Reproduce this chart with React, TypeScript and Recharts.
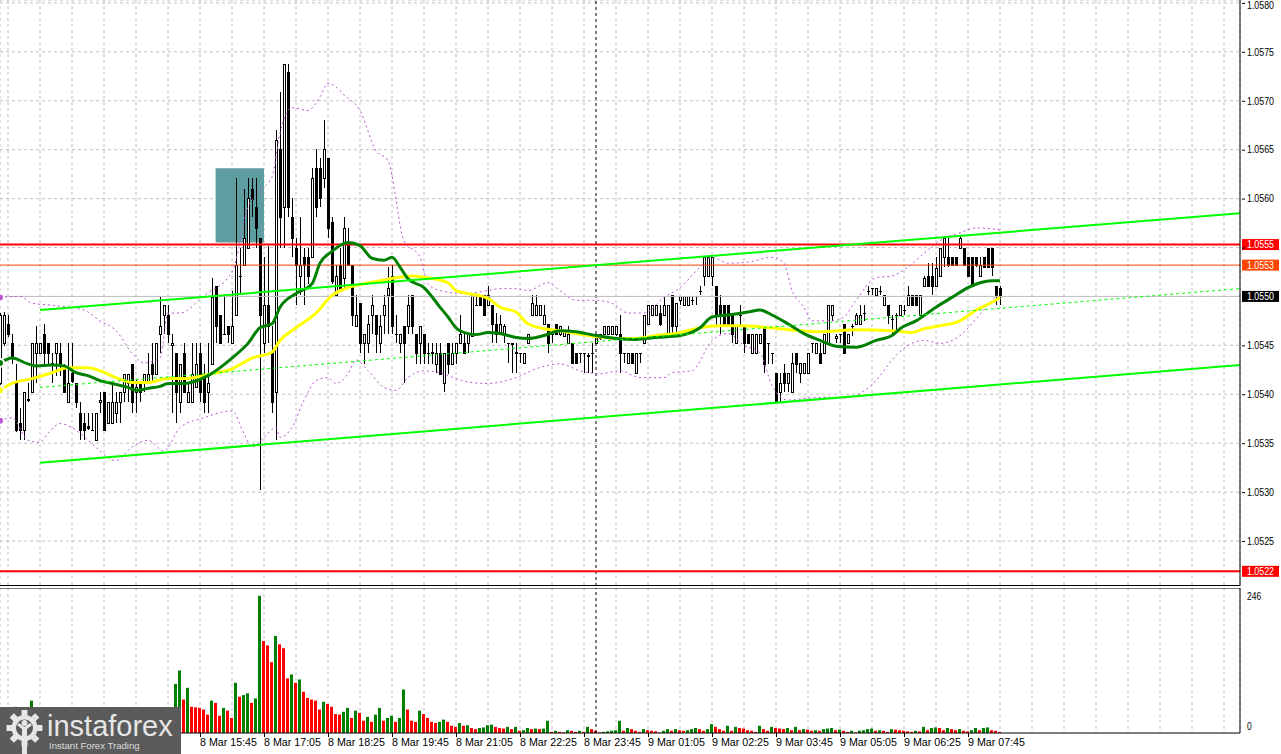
import React from 'react';
import {
  ComposedChart, Bar, Line, XAxis, YAxis, CartesianGrid,
  ReferenceLine, ReferenceArea, Cell,
} from 'recharts';

// 5 min candles, bar index 0 .. 250 (bar 50 = 8 Mar 15:45)
const opens = [
  1.05412, 1.05452, 1.05472, 1.05452, 1.05412, 1.05371, 1.05363, 1.05394, 1.05402, 1.05442,
  1.05442, 1.05462, 1.05452, 1.05431, 1.05442, 1.05442, 1.05429, 1.05392, 1.05422, 1.05412,
  1.05381, 1.05371, 1.05368, 1.05363, 1.05353, 1.05392, 1.05402, 1.05371, 1.05371, 1.05381,
  1.05392, 1.05402, 1.05412, 1.05431, 1.05402, 1.05412, 1.05412, 1.05412, 1.05431, 1.05421,
  1.05462, 1.05481, 1.05481, 1.05450, 1.05442, 1.05392, 1.05442, 1.05392, 1.05392, 1.05407,
  1.05442, 1.05421, 1.05402, 1.05431, 1.05511, 1.05481, 1.05462, 1.05470, 1.05452, 1.05481,
  1.05521, 1.05532, 1.05550, 1.05610, 1.05591, 1.05560, 1.05452, 1.05491, 1.05442, 1.05402,
  1.05651, 1.05591, 1.05729, 1.05581, 1.05550, 1.05521, 1.05540, 1.05540, 1.05540, 1.05631,
  1.05631, 1.05621, 1.05641, 1.05576, 1.05501, 1.05532, 1.05519, 1.05555, 1.05532, 1.05470,
  1.05493, 1.05452, 1.05452, 1.05481, 1.05481, 1.05452, 1.05481, 1.05501, 1.05521, 1.05462,
  1.05452, 1.05470, 1.05470, 1.05501, 1.05462, 1.05452, 1.05462, 1.05442, 1.05442, 1.05431,
  1.05442, 1.05412, 1.05452, 1.05431, 1.05442, 1.05452, 1.05452, 1.05452, 1.05460, 1.05491,
  1.05501, 1.05501, 1.05491, 1.05491, 1.05472, 1.05462, 1.05462, 1.05452, 1.05452, 1.05443,
  1.05442, 1.05432, 1.05452, 1.05481, 1.05481, 1.05481, 1.05472, 1.05472, 1.05462, 1.05472,
  1.05462, 1.05460, 1.05452, 1.05452, 1.05442, 1.05442, 1.05442, 1.05440, 1.05442, 1.05452,
  1.05457, 1.05462, 1.05462, 1.05462, 1.05462, 1.05462, 1.05442, 1.05432, 1.05442, 1.05422,
  1.05442, 1.05452, 1.05472, 1.05481, 1.05481, 1.05483, 1.05481, 1.05462, 1.05501, 1.05470,
  1.05496, 1.05491, 1.05491, 1.05496, 1.05500, 1.05506, 1.05521, 1.05521, 1.05521, 1.05511,
  1.05491, 1.05491, 1.05491, 1.05481, 1.05452, 1.05481, 1.05470, 1.05462, 1.05442, 1.05442,
  1.05452, 1.05470, 1.05452, 1.05442, 1.05422, 1.05402, 1.05422, 1.05412, 1.05402, 1.05442,
  1.05422, 1.05422, 1.05422, 1.05452, 1.05442, 1.05442, 1.05442, 1.05452, 1.05481, 1.05457,
  1.05462, 1.05472, 1.05452, 1.05470, 1.05472, 1.05472, 1.05483, 1.05506, 1.05509, 1.05501,
  1.05506, 1.05491, 1.05491, 1.05477, 1.05481, 1.05481, 1.05486, 1.05491, 1.05501, 1.05501,
  1.05481, 1.05511, 1.05521, 1.05521, 1.05511, 1.05521, 1.05540, 1.05540, 1.05540, 1.05540,
  1.05550, 1.05550, 1.05540, 1.05540, 1.05540, 1.05521, 1.05540, 1.05550, 1.05550, 1.05511,
  1.05509,
];
const highs = [
  1.05483, 1.05484, 1.05481, 1.05462, 1.05431, 1.05386, 1.05402, 1.05411, 1.05452, 1.05470,
  1.05452, 1.05472, 1.05452, 1.05442, 1.05452, 1.05452, 1.05431, 1.05452, 1.05452, 1.05412,
  1.05392, 1.05381, 1.05381, 1.05381, 1.05381, 1.05402, 1.05402, 1.05392, 1.05412, 1.05402,
  1.05402, 1.05421, 1.05421, 1.05431, 1.05416, 1.05412, 1.05421, 1.05442, 1.05452, 1.05452,
  1.05499, 1.05491, 1.05491, 1.05462, 1.05442, 1.05431, 1.05452, 1.05411, 1.05452, 1.05452,
  1.05452, 1.05431, 1.05452, 1.05519, 1.05511, 1.05481, 1.05501, 1.05470, 1.05506, 1.05621,
  1.05550, 1.05610, 1.05621, 1.05621, 1.05621, 1.05560, 1.05540, 1.05552, 1.05470, 1.05670,
  1.05709, 1.05738, 1.05738, 1.05601, 1.05560, 1.05581, 1.05550, 1.05550, 1.05631, 1.05651,
  1.05641, 1.05680, 1.05641, 1.05581, 1.05532, 1.05550, 1.05581, 1.05570, 1.05532, 1.05501,
  1.05493, 1.05462, 1.05481, 1.05501, 1.05481, 1.05481, 1.05501, 1.05530, 1.05532, 1.05481,
  1.05462, 1.05470, 1.05501, 1.05501, 1.05462, 1.05470, 1.05462, 1.05452, 1.05452, 1.05452,
  1.05452, 1.05442, 1.05452, 1.05452, 1.05452, 1.05481, 1.05462, 1.05462, 1.05501, 1.05501,
  1.05501, 1.05501, 1.05511, 1.05491, 1.05483, 1.05481, 1.05472, 1.05452, 1.05452, 1.05452,
  1.05442, 1.05442, 1.05462, 1.05501, 1.05501, 1.05491, 1.05491, 1.05472, 1.05462, 1.05472,
  1.05470, 1.05465, 1.05470, 1.05452, 1.05442, 1.05442, 1.05442, 1.05442, 1.05452, 1.05462,
  1.05462, 1.05470, 1.05470, 1.05470, 1.05470, 1.05481, 1.05442, 1.05442, 1.05442, 1.05442,
  1.05442, 1.05481, 1.05491, 1.05491, 1.05491, 1.05491, 1.05499, 1.05491, 1.05501, 1.05493,
  1.05500, 1.05500, 1.05500, 1.05500, 1.05500, 1.05511, 1.05540, 1.05540, 1.05540, 1.05511,
  1.05501, 1.05491, 1.05491, 1.05481, 1.05470, 1.05491, 1.05470, 1.05462, 1.05462, 1.05462,
  1.05462, 1.05470, 1.05452, 1.05442, 1.05422, 1.05422, 1.05431, 1.05422, 1.05442, 1.05442,
  1.05432, 1.05432, 1.05442, 1.05452, 1.05452, 1.05452, 1.05462, 1.05491, 1.05491, 1.05462,
  1.05462, 1.05472, 1.05462, 1.05472, 1.05483, 1.05491, 1.05491, 1.05511, 1.05509, 1.05509,
  1.05511, 1.05501, 1.05491, 1.05481, 1.05483, 1.05491, 1.05491, 1.05511, 1.05501, 1.05501,
  1.05501, 1.05521, 1.05534, 1.05534, 1.05540, 1.05550, 1.05562, 1.05560, 1.05540, 1.05540,
  1.05562, 1.05550, 1.05540, 1.05540, 1.05540, 1.05540, 1.05540, 1.05550, 1.05550, 1.05511,
  1.05511,
];
const lows = [
  1.05409, 1.05449, 1.05459, 1.05431, 1.05361, 1.05353, 1.05353, 1.05392, 1.05402, 1.05412,
  1.05442, 1.05431, 1.05431, 1.05411, 1.05419, 1.05419, 1.05402, 1.05392, 1.05412, 1.05386,
  1.05353, 1.05353, 1.05363, 1.05363, 1.05353, 1.05381, 1.05363, 1.05371, 1.05371, 1.05371,
  1.05371, 1.05392, 1.05392, 1.05381, 1.05381, 1.05392, 1.05402, 1.05412, 1.05412, 1.05421,
  1.05442, 1.05462, 1.05452, 1.05381, 1.05371, 1.05381, 1.05402, 1.05392, 1.05392, 1.05407,
  1.05392, 1.05381, 1.05381, 1.05431, 1.05452, 1.05452, 1.05462, 1.05452, 1.05452, 1.05481,
  1.05501, 1.05532, 1.05550, 1.05581, 1.05550, 1.05302, 1.05442, 1.05452, 1.05381, 1.05353,
  1.05550, 1.05550, 1.05581, 1.05540, 1.05491, 1.05501, 1.05491, 1.05513, 1.05540, 1.05581,
  1.05591, 1.05611, 1.05560, 1.05513, 1.05501, 1.05509, 1.05509, 1.05532, 1.05470, 1.05470,
  1.05442, 1.05431, 1.05442, 1.05462, 1.05442, 1.05442, 1.05462, 1.05462, 1.05462, 1.05452,
  1.05442, 1.05412, 1.05462, 1.05462, 1.05431, 1.05431, 1.05431, 1.05431, 1.05431, 1.05422,
  1.05421, 1.05402, 1.05421, 1.05431, 1.05431, 1.05452, 1.05442, 1.05442, 1.05460, 1.05491,
  1.05491, 1.05481, 1.05491, 1.05452, 1.05452, 1.05462, 1.05452, 1.05432, 1.05422, 1.05422,
  1.05432, 1.05432, 1.05452, 1.05481, 1.05481, 1.05481, 1.05472, 1.05442, 1.05452, 1.05462,
  1.05460, 1.05460, 1.05452, 1.05432, 1.05432, 1.05432, 1.05422, 1.05422, 1.05422, 1.05452,
  1.05455, 1.05462, 1.05462, 1.05462, 1.05460, 1.05422, 1.05432, 1.05432, 1.05432, 1.05422,
  1.05432, 1.05452, 1.05472, 1.05481, 1.05481, 1.05470, 1.05481, 1.05462, 1.05462, 1.05462,
  1.05491, 1.05491, 1.05491, 1.05491, 1.05491, 1.05501, 1.05511, 1.05521, 1.05511, 1.05470,
  1.05462, 1.05470, 1.05470, 1.05452, 1.05452, 1.05470, 1.05442, 1.05452, 1.05442, 1.05442,
  1.05452, 1.05422, 1.05431, 1.05431, 1.05392, 1.05392, 1.05402, 1.05402, 1.05402, 1.05422,
  1.05412, 1.05422, 1.05422, 1.05442, 1.05442, 1.05432, 1.05442, 1.05452, 1.05475, 1.05452,
  1.05452, 1.05442, 1.05452, 1.05460, 1.05472, 1.05472, 1.05475, 1.05501, 1.05501, 1.05499,
  1.05501, 1.05491, 1.05472, 1.05462, 1.05463, 1.05481, 1.05481, 1.05491, 1.05491, 1.05491,
  1.05481, 1.05511, 1.05511, 1.05501, 1.05511, 1.05521, 1.05530, 1.05530, 1.05532, 1.05532,
  1.05550, 1.05532, 1.05521, 1.05511, 1.05530, 1.05521, 1.05530, 1.05530, 1.05521, 1.05491,
  1.05491,
];
const closes = [
  1.05481, 1.05481, 1.05462, 1.05438, 1.05363, 1.05363, 1.05402, 1.05395, 1.05452, 1.05452,
  1.05452, 1.05442, 1.05442, 1.05432, 1.05452, 1.05431, 1.05402, 1.05411, 1.05414, 1.05392,
  1.05363, 1.05363, 1.05365, 1.05363, 1.05381, 1.05394, 1.05363, 1.05392, 1.05392, 1.05392,
  1.05402, 1.05421, 1.05421, 1.05392, 1.05407, 1.05402, 1.05421, 1.05421, 1.05421, 1.05452,
  1.05470, 1.05491, 1.05462, 1.05452, 1.05402, 1.05431, 1.05402, 1.05402, 1.05421, 1.05431,
  1.05402, 1.05392, 1.05412, 1.05499, 1.05470, 1.05452, 1.05462, 1.05462, 1.05470, 1.05532,
  1.05521, 1.05560, 1.05601, 1.05600, 1.05570, 1.05481, 1.05491, 1.05470, 1.05392, 1.05660,
  1.05581, 1.05738, 1.05591, 1.05560, 1.05532, 1.05532, 1.05532, 1.05521, 1.05621, 1.05591,
  1.05601, 1.05651, 1.05570, 1.05516, 1.05521, 1.05509, 1.05570, 1.05532, 1.05481, 1.05481,
  1.05452, 1.05462, 1.05472, 1.05491, 1.05462, 1.05470, 1.05491, 1.05509, 1.05470, 1.05462,
  1.05462, 1.05452, 1.05491, 1.05470, 1.05442, 1.05470, 1.05442, 1.05442, 1.05443, 1.05442,
  1.05421, 1.05442, 1.05431, 1.05442, 1.05452, 1.05462, 1.05442, 1.05462, 1.05501, 1.05491,
  1.05491, 1.05481, 1.05501, 1.05472, 1.05462, 1.05472, 1.05470, 1.05452, 1.05451, 1.05442,
  1.05442, 1.05442, 1.05462, 1.05493, 1.05491, 1.05491, 1.05481, 1.05452, 1.05462, 1.05462,
  1.05470, 1.05465, 1.05462, 1.05432, 1.05432, 1.05442, 1.05442, 1.05439, 1.05442, 1.05462,
  1.05462, 1.05470, 1.05470, 1.05470, 1.05470, 1.05442, 1.05442, 1.05442, 1.05432, 1.05442,
  1.05442, 1.05481, 1.05491, 1.05491, 1.05491, 1.05472, 1.05491, 1.05491, 1.05470, 1.05493,
  1.05500, 1.05500, 1.05500, 1.05496, 1.05500, 1.05506, 1.05540, 1.05540, 1.05540, 1.05481,
  1.05481, 1.05470, 1.05470, 1.05462, 1.05470, 1.05481, 1.05452, 1.05452, 1.05462, 1.05462,
  1.05462, 1.05431, 1.05452, 1.05442, 1.05392, 1.05412, 1.05412, 1.05422, 1.05432, 1.05431,
  1.05432, 1.05432, 1.05442, 1.05452, 1.05452, 1.05432, 1.05462, 1.05491, 1.05491, 1.05460,
  1.05462, 1.05442, 1.05462, 1.05470, 1.05481, 1.05481, 1.05483, 1.05506, 1.05509, 1.05509,
  1.05506, 1.05501, 1.05481, 1.05477, 1.05481, 1.05491, 1.05486, 1.05501, 1.05491, 1.05491,
  1.05501, 1.05519, 1.05511, 1.05511, 1.05529, 1.05550, 1.05560, 1.05532, 1.05532, 1.05532,
  1.05560, 1.05532, 1.05521, 1.05511, 1.05532, 1.05532, 1.05530, 1.05530, 1.05530, 1.05501,
  1.05500,
];
const volumes = [
  30, 25, 35, 28, 47, 33, 20, 30, 58, 40,
  25, 32, 28, 22, 35, 30, 26, 20, 38, 27,
  24, 30, 33, 21, 18, 26, 30, 22, 19, 25,
  28, 20, 16, 24, 31, 27, 22, 35, 40, 30,
  26, 34, 38, 45, 88, 112, 60, 81, 47, 46,
  45, 42, 33, 58, 54, 31, 45, 40, 27, 90,
  65, 68, 71, 54, 62, 246, 165, 157, 127, 174,
  159, 152, 98, 105, 90, 96, 74, 63, 60, 58,
  42, 56, 52, 47, 34, 33, 38, 45, 27, 40,
  36, 22, 29, 20, 33, 45, 22, 27, 31, 20,
  27, 78, 42, 22, 20, 40, 34, 27, 20, 18,
  20, 24, 20, 13, 11, 18, 13, 14, 9, 7,
  9, 10, 14, 15, 11, 9, 8, 11, 7, 11,
  4, 5, 9, 7, 8, 7, 8, 22, 2, 4,
  2, 1, 5, 4, 2, 4, 2, 11, 7, 4,
  1, 2, 3, 4, 5, 22, 4, 9, 7, 4,
  2, 7, 5, 4, 3, 1, 4, 7, 4, 7,
  5, 4, 5, 7, 9, 7, 4, 7, 16, 11,
  7, 4, 13, 4, 11, 9, 8, 5, 4, 2,
  13, 7, 4, 11, 9, 8, 7, 9, 5, 11,
  5, 7, 6, 4, 5, 4, 7, 8, 9, 5,
  6, 4, 2, 4, 1, 4, 5, 7, 8, 4,
  5, 4, 2, 7, 6, 5, 4, 3, 2, 4,
  3, 11, 5, 9, 10, 9, 5, 9, 7, 5,
  7, 4, 3, 5, 9, 5, 9, 10, 5, 4,
  2,
];

// indicator readings [bar, price]
const fastMa = [
  [0, 1.05432], [3, 1.05437], [7, 1.05431], [9, 1.05429], [13, 1.0543], [16, 1.05429], [19, 1.05422],
  [22, 1.05419], [25, 1.05414], [28, 1.05411], [32, 1.05407], [34, 1.05404], [37, 1.05406], [40, 1.05408],
  [42, 1.05411], [46, 1.05411], [52, 1.05419], [58, 1.05437], [62, 1.05452], [65, 1.05468], [68, 1.05472],
  [70, 1.05489], [74, 1.05503], [78, 1.05513], [80, 1.05534], [83, 1.05546], [85, 1.05552], [87, 1.05555],
  [90, 1.05552], [93, 1.05539], [96, 1.05537], [98, 1.0554], [100, 1.0553], [102, 1.05518], [106, 1.05509],
  [110, 1.05489], [112, 1.05479], [114, 1.05468], [117, 1.05462], [119, 1.05461], [122, 1.05463],
  [125, 1.05462], [129, 1.05458], [132, 1.05457], [136, 1.0546], [140, 1.05465], [144, 1.05464],
  [149, 1.0546], [154, 1.05457], [159, 1.05456], [164, 1.05458], [170, 1.0546], [175, 1.05468],
  [178, 1.05479], [182, 1.05481], [187, 1.05484], [190, 1.05486], [193, 1.05481], [197, 1.05472],
  [201, 1.05462], [205, 1.05455], [209, 1.05449], [214, 1.05448], [219, 1.05455], [223, 1.0546],
  [225, 1.05467], [229, 1.05475], [234, 1.05489], [238, 1.05499], [242, 1.05509], [245, 1.05514],
  [248, 1.05516], [250, 1.05516],
];
const slowMa = [
  [0, 1.05404], [3, 1.05411], [8, 1.05416], [13, 1.05422], [17, 1.05427], [22, 1.05427], [25, 1.05424],
  [29, 1.05417], [33, 1.05412], [37, 1.05412], [42, 1.05416], [46, 1.05416], [53, 1.05421], [58, 1.05426],
  [63, 1.05437], [68, 1.05443], [70, 1.05455], [74, 1.05468], [79, 1.05483], [83, 1.05501], [87, 1.05509],
  [91, 1.05513], [95, 1.05516], [99, 1.05519], [103, 1.05521], [107, 1.05519], [112, 1.05514],
  [114, 1.05506], [117, 1.05503], [122, 1.05498], [125, 1.05489], [129, 1.05484], [132, 1.05472],
  [136, 1.05467], [140, 1.05465], [144, 1.05462], [149, 1.05459], [154, 1.05457], [159, 1.05457],
  [164, 1.0546], [170, 1.05463], [175, 1.05468], [180, 1.0547], [185, 1.0547], [190, 1.05469],
  [195, 1.05467], [200, 1.05465], [205, 1.05464], [214, 1.05466], [223, 1.05465], [228, 1.05463],
  [231, 1.05467], [235, 1.0547], [240, 1.05475], [244, 1.05486], [248, 1.05494], [250, 1.05499],
];
const upperBand = [
  [0, 1.05499], [5, 1.055], [8, 1.05493], [13, 1.05491], [21, 1.05486], [25, 1.05475], [29, 1.05465],
  [33, 1.05442], [36, 1.05432], [40, 1.05437], [42, 1.05483], [45, 1.05483], [51, 1.05501], [58, 1.05525],
  [62, 1.05591], [65, 1.05608], [68, 1.05622], [70, 1.05667], [73, 1.05693], [77, 1.0569], [80, 1.05704],
  [82, 1.05718], [84, 1.05714], [86, 1.05706], [90, 1.0569], [94, 1.05649], [97, 1.05639], [101, 1.05557],
  [105, 1.0554], [107, 1.05513], [110, 1.05506], [116, 1.05503], [122, 1.05506], [125, 1.05508],
  [129, 1.05508], [132, 1.05506], [137, 1.05514], [140, 1.05506], [144, 1.05496], [149, 1.05496],
  [153, 1.05493], [157, 1.05483], [161, 1.05483], [166, 1.05499], [170, 1.05509], [175, 1.0553],
  [178, 1.0554], [182, 1.05534], [187, 1.05535], [193, 1.0554], [196, 1.05534], [198, 1.05506],
  [201, 1.05489], [203, 1.05475], [208, 1.05475], [211, 1.05479], [214, 1.05496], [219, 1.05519],
  [223, 1.05521], [227, 1.0553], [231, 1.05544], [235, 1.05557], [240, 1.05565], [244, 1.0557],
  [248, 1.05569], [250, 1.05568],
];
const lowerBand = [
  [0, 1.05373], [3, 1.05376], [7, 1.05353], [10, 1.05351], [12, 1.0536], [15, 1.0537], [18, 1.05366],
  [22, 1.05353], [25, 1.05342], [29, 1.05332], [33, 1.05346], [37, 1.05353], [41, 1.05342], [45, 1.05366],
  [51, 1.05376], [58, 1.05383], [61, 1.0536], [63, 1.05346], [66, 1.05356], [69, 1.05366], [70, 1.05356],
  [73, 1.05366], [76, 1.05394], [79, 1.05414], [82, 1.05417], [84, 1.05411], [87, 1.05421], [89, 1.05435],
  [92, 1.05424], [96, 1.05407], [99, 1.05404], [102, 1.05417], [106, 1.05424], [110, 1.05422],
  [114, 1.05416], [118, 1.05412], [122, 1.05411], [129, 1.05417], [134, 1.05426], [140, 1.05431],
  [145, 1.05424], [150, 1.05421], [155, 1.05424], [160, 1.05417], [166, 1.05417], [168, 1.05422],
  [173, 1.05424], [178, 1.05455], [182, 1.05462], [186, 1.0545], [190, 1.05442], [193, 1.05409],
  [197, 1.05394], [202, 1.05396], [207, 1.05397], [211, 1.05396], [215, 1.05401], [219, 1.05414],
  [223, 1.05435], [227, 1.0545], [231, 1.05455], [235, 1.05452], [240, 1.0546], [244, 1.05477],
  [248, 1.05496], [250, 1.05504],
];

const X_MAX = 310;
const channelUpper = [[10, 1.05486], [X_MAX, 1.05585]];
const channelLower = [[10, 1.0533], [X_MAX, 1.0543]];
const channelMid = [[10, 1.05407], [X_MAX, 1.05508]];

const levels = [
  { value: 1.05553, color: '#ff0000', width: 2, tag: '#ff0000' },
  { value: 1.05532, color: '#ff4500', width: 1, tag: '#ff4500' },
  { value: 1.055, color: '#c0c0c0', width: 1, tag: '#000000' },
  { value: 1.05219, color: '#ff0000', width: 2, tag: '#ff0000' },
];

const priceTicks = [1.0525, 1.053, 1.0535, 1.054, 1.0545, 1.055, 1.0555, 1.056, 1.0565, 1.057, 1.0575, 1.058];
const timeTicks = [50, 66, 82, 98, 114, 130, 146, 162, 178, 194, 210, 226, 242];
const timeLabels = [
  '8 Mar 15:45', '8 Mar 17:05', '8 Mar 18:25', '8 Mar 19:45', '8 Mar 21:05', '8 Mar 22:25', '8 Mar 23:45',
  '9 Mar 01:05', '9 Mar 02:25', '9 Mar 03:45', '9 Mar 05:05', '9 Mar 06:25', '9 Mar 07:45',
];
const volumeTicks = [0, 246];

const gridIdx = Array.from({ length: 39 }, (_, k) => 2 + 8 * k);

const rows: any[] = opens.map((open, i) => ({
  i, open, high: highs[i], low: lows[i], close: closes[i],
  span: [lows[i], highs[i]], volume: volumes[i],
}));
const attach = (key: string, pts: number[][]) => pts.forEach(([i, v]) => { rows[i][key] = v; });
attach('fast', fastMa);
attach('slow', slowMa);
attach('bandUp', upperBand);
attach('bandDn', lowerBand);

const AXIS_FONT = '"Liberation Sans", Arial, sans-serif';

// squeeze text to the narrow terminal font width
const Label = ({ x, y, text, fill = '#000', w }: any) => (
  <text
    x={x} y={y} dy="0.36em" fontSize={10.5} fontFamily={AXIS_FONT} fill={fill}
    textLength={w} lengthAdjust="spacingAndGlyphs"
  >
    {text}
  </text>
);

const Candle = (props: any) => {
  const { x, y, width, height, payload } = props;
  if (!payload || !Number.isFinite(y) || !Number.isFinite(height)) return null;
  const { open, close, high, low } = payload;
  const c = Math.round(x + width / 2);
  const k = high > low ? height / (high - low) : 0;
  const top = Math.round(y + (high - Math.max(open, close)) * k);
  const bot = Math.round(y + (high - Math.min(open, close)) * k);
  const up = close > open;
  return (
    <g shapeRendering="crispEdges">
      <line x1={c + 0.5} x2={c + 0.5} y1={y} y2={y + height} stroke="#000" />
      {bot - top < 1 ? (
        <line x1={c - 1} x2={c + 2} y1={top + 0.5} y2={top + 0.5} stroke="#000" />
      ) : (
        <rect x={c - 0.5} y={top + 0.5} width={2} height={bot - top} fill={up ? '#fff' : '#000'} stroke="#000" />
      )}
    </g>
  );
};

const PriceTick = ({ x, y, payload }: any) => {
  const v = payload.value;
  const covered = levels.some((l) => Math.abs(l.value - v) < 0.00005);
  return (
    <g>
      <line x1={x + 2} x2={x + 5} y1={y + 0.5} y2={y + 0.5} stroke="#000" />
      {!covered && <Label x={x + 7} y={Math.max(y, 5)} text={v.toFixed(4)} w={27} />}
    </g>
  );
};

const VolumeTick = ({ x, y, payload }: any) => {
  const s = String(payload.value);
  return <Label x={x + 7} y={payload.value === 0 ? y - 7 : y} text={s} w={s.length * 4.7} />;
};

const TimeTick = ({ x, y, payload }: any) => {
  const k = timeTicks.indexOf(payload.value);
  if (k < 0) return null;
  return (
    <g>
      <line x1={x + 0.5} x2={x + 0.5} y1={y} y2={y + 4} stroke="#000" />
      <Label x={x} y={y + 9} text={timeLabels[k]} w={57} />
    </g>
  );
};

const levelTag = (bg: string, value: number) => (props: any) => {
  const vb = props.viewBox || {};
  const right = (vb.x || 0) + (vb.width || 0);
  const y = vb.y || 0;
  return (
    <g>
      <rect x={right + 2} y={y - 5.5} width={37} height={11} fill={bg} />
      <Label x={right + 7} y={y} text={value.toFixed(4)} fill="#fff" w={27} />
    </g>
  );
};

const Logo = () => (
  <svg width={181} height={47} style={{ position: 'absolute', left: 0, top: 707 }}>
    <rect width={181} height={47} fill="#5b5b5b" />
    <g fill="#e6e6e6">
      {[0, 45, 90, 135, 180, 225, 270, 315].map((a) => (
        <rect key={a} x={21.5} y={3} width={6} height={8} transform={`rotate(${a} 24.5 21)`} />
      ))}
      <circle cx={24.5} cy={21} r={13} />
    </g>
    <circle cx={24.5} cy={21} r={8.5} fill="#5b5b5b" />
    <g fill="#e6e6e6">
      <circle cx={24.5} cy={16} r={3} />
      <path d="M17 18 L22 22 L22 47 L27 47 L27 22 L32 18 L30 16 L24.5 20 L19 16 Z" />
    </g>
    <text x={47} y={29} fontSize={29} fontFamily='"Liberation Sans", Arial, sans-serif' fill="#e6e6e6">instaforex</text>
    <text x={49} y={42} fontSize={9.6} fontFamily='"Liberation Sans", Arial, sans-serif' fill="#dcdcdc">Instant Forex Trading</text>
  </svg>
);

export default function App() {
  return (
    <div style={{ position: 'absolute', left: 0, top: 0, width: 1281, height: 754, background: '#fff', overflow: 'hidden' }}>
      <div style={{ position: 'absolute', left: 0, top: 0 }}>
        <ComposedChart width={1281} height={586} data={rows} margin={{ top: 0, right: 0, bottom: 0, left: 0 }}>
          <CartesianGrid stroke="#c0c0c0" strokeDasharray="3 3" />
          <XAxis dataKey="i" type="number" domain={[0, X_MAX]} ticks={gridIdx} hide allowDataOverflow />
          <YAxis
            orientation="right" width={41} domain={[1.05204, 1.05803]} ticks={priceTicks} interval={0}
            tick={PriceTick} tickLine={false} tickSize={0} tickMargin={0} axisLine={{ stroke: '#000' }} allowDataOverflow
          />
          <ReferenceArea x1={53.9} x2={66} y1={1.05555} y2={1.05631} fill="#5f9ea0" fillOpacity={1} stroke="none" />
          <ReferenceLine x={149} stroke="#000" strokeDasharray="3 3" />
          {levels.map((l) => (
            <ReferenceLine key={l.value} y={l.value} stroke={l.color} strokeWidth={l.width} label={levelTag(l.tag, l.value)} />
          ))}
          <Bar dataKey="span" barSize={3} shape={Candle} isAnimationActive={false} />
          <Line dataKey="bandUp" stroke="#ba55d3" strokeWidth={1} strokeDasharray="2 3" dot={false} connectNulls type="monotone" isAnimationActive={false} />
          <Line dataKey="bandDn" stroke="#ba55d3" strokeWidth={1} strokeDasharray="2 3" dot={false} connectNulls type="monotone" isAnimationActive={false} />
          <Line dataKey="slow" stroke="#ffff00" strokeWidth={3} dot={false} connectNulls type="monotone" isAnimationActive={false} />
          <Line dataKey="fast" stroke="#008000" strokeWidth={3} dot={false} connectNulls type="monotone" isAnimationActive={false} />
          <ReferenceLine segment={channelUpper.map(([x, y]) => ({ x, y }))} stroke="#00ff00" strokeWidth={2} />
          <ReferenceLine segment={channelLower.map(([x, y]) => ({ x, y }))} stroke="#00ff00" strokeWidth={2} />
          <ReferenceLine segment={channelMid.map(([x, y]) => ({ x, y }))} stroke="#00ff00" strokeWidth={1} strokeDasharray="3 3" />
        </ComposedChart>
      </div>
      <div style={{ position: 'absolute', left: 0, top: 585, width: 1240, height: 1, background: '#000' }} />
      <div style={{ position: 'absolute', left: 0, top: 588 }}>
        <ComposedChart width={1281} height={166} data={rows} margin={{ top: 0, right: 0, bottom: 0, left: 0 }}>
          <CartesianGrid stroke="#c0c0c0" strokeDasharray="3 3" horizontal={false} />
          <XAxis
            dataKey="i" type="number" domain={[0, X_MAX]} ticks={gridIdx} interval={0} height={21}
            tick={TimeTick} tickLine={false} tickSize={0} tickMargin={0} axisLine={{ stroke: '#000' }} allowDataOverflow
          />
          <YAxis
            orientation="right" width={41} domain={[0, 260]} ticks={volumeTicks} interval={0}
            tick={VolumeTick} tickLine={false} tickSize={0} tickMargin={0} axisLine={{ stroke: '#000' }} allowDataOverflow
          />
          <ReferenceLine x={149} stroke="#000" strokeDasharray="3 3" />
          <ReferenceLine y={260} stroke="#000" strokeWidth={1} />
          <Bar dataKey="volume" barSize={3} isAnimationActive={false}>
            {rows.map((r, i) => (
              <Cell key={i} fill={i > 0 && r.volume > rows[i - 1].volume ? '#008000' : '#ff0000'} />
            ))}
          </Bar>
        </ComposedChart>
      </div>
      <Logo />
    </div>
  );
}
